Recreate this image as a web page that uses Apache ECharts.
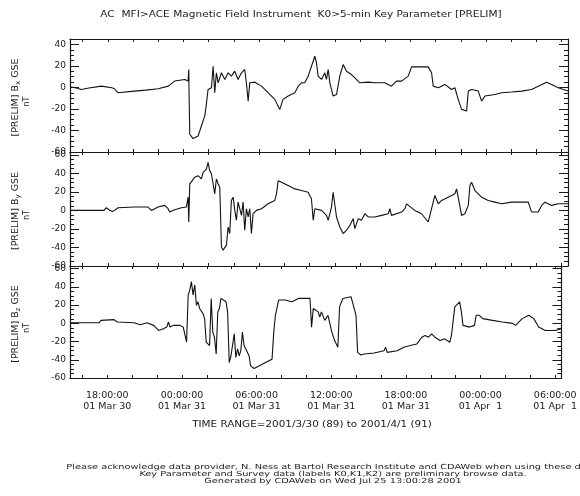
<!DOCTYPE html>
<html>
<head>
<meta charset="utf-8">
<script src="https://cdn.jsdelivr.net/npm/echarts@6/dist/echarts.min.js"></script>
<style>
html,body{margin:0;padding:0;background:#fff;}
#c{width:580px;height:496px;}
</style>
</head>
<body>
<div id="c"></div>
<script>
// ---- data (hours since 2001-03-30 00:00 UT, values in nT) ----
const bxHours = [15.0,15.5,15.9,16.5,17.5,18.3,18.5,18.8,20.1,21.0,22.0,22.8,23.3,24.1,24.37,24.42,24.45,24.5,24.76,25.16,25.42,25.69,25.82,25.95,26.22,26.35,26.48,26.61,26.75,27.01,27.28,27.54,27.8,28.07,28.33,28.6,28.86,28.99,29.13,29.26,29.66,30.19,30.71,31.24,31.64,31.9,32.3,32.83,33.1,33.36,33.62,33.89,34.15,34.42,34.55,34.68,34.95,35.21,35.34,35.48,35.61,35.87,36.14,36.4,36.67,36.93,37.33,37.59,37.99,38.65,39.18,39.97,40.5,40.9,41.3,41.83,42.09,43.41,43.68,43.81,44.21,44.74,45.26,45.53,45.79,46.06,46.46,46.59,46.85,47.38,47.65,47.91,48.7,49.23,50.03,50.82,51.61,52.14,52.8,53.2,53.73,54.5];
const bxValues = [0.5,-0.5,-1.9,-0.5,1.2,-0.3,-1.0,-4.9,-3.4,-2.5,-1.2,1.2,5.9,7.4,5.9,16.7,-10,-43.5,-47.5,-45.1,-35.8,-26.5,-15,-1.9,-0.3,19.7,-4.9,13.6,4.3,13.6,7.4,13.6,10.5,15.1,7.4,13.6,16.7,4.3,-12.7,4.3,4.9,1.2,-4.9,-11.1,-20.4,-11.1,-8.0,-4.9,1.2,4.3,4.3,10.5,19.7,29.0,22.8,10.5,7.4,13.6,7.4,16.7,4.3,-8.0,-6.5,10.5,21.3,15.1,12.0,8.9,4.3,4.9,4.3,4.3,1.2,5.9,5.9,10.5,19.1,19.1,13.6,1.2,-0.3,2.8,-1.9,-0.3,-11.1,-20.4,-21.9,-3.4,-1.9,-3.4,-12.7,-8.0,-6.5,-4.9,-4.3,-3.4,-1.9,1.2,4.9,2.8,-0.3,-3.4];

const byHours = [15.0,17.7,17.88,18.15,18.41,18.81,20.1,21.19,21.46,21.98,22.51,22.78,22.91,23.31,23.84,24.23,24.37,24.42,24.5,24.63,24.89,25.16,25.42,25.56,25.82,25.95,26.08,26.22,26.35,26.48,26.61,26.75,26.88,27.01,27.14,27.41,27.54,27.67,27.8,27.94,28.07,28.2,28.33,28.47,28.6,28.73,28.86,28.99,29.13,29.26,29.39,29.52,29.79,30.19,30.71,31.24,31.38,31.51,31.77,32.3,32.83,33.36,33.89,34.15,34.29,34.42,34.95,35.34,35.48,35.74,35.87,36.01,36.14,36.4,36.67,36.93,37.2,37.46,37.59,37.86,38.12,38.39,38.65,39.18,39.71,40.24,40.37,40.5,41.3,41.56,41.69,41.83,42.35,42.88,43.41,43.68,43.94,44.21,44.47,45.0,45.53,45.66,45.79,46.06,46.32,46.59,46.72,46.85,47.12,47.65,48.17,48.7,49.23,50.03,50.82,51.35,51.61,52.14,52.41,52.67,53.2,53.73,54.5];
const byValues = [0,0,2.9,0,-1.1,2.9,3.6,3.6,0,3.6,5.4,1.8,-1.8,0.7,2.9,3.6,14.3,-12.5,28.6,30.4,35.7,37.5,33.9,41.1,44.6,51.8,42.9,39.3,41.1,17.9,33.9,28.6,25,-39.3,-42.9,-37.5,-17.9,-25,10.7,14.3,0,-10.7,8.9,7.1,-5.4,8.9,-21.4,1.8,-7.1,1.8,-25,-3.6,0,1.8,7.1,10.7,17.9,32.1,30.4,26.8,23.2,21.4,19.6,12.5,-10.7,1.8,0,-5.4,-10.7,3.6,19.6,17.9,-7.1,-17.9,-25,-21.4,-16.1,-8.9,-19.6,-8.9,-10.7,-3.6,-7.1,-7.1,-5.4,-3.6,1.8,-5.4,-1.8,1.8,7.1,5.4,0,-3.6,-12.5,1.8,16.1,7.1,10.7,14.3,17.9,23.2,14.3,-5.4,-3.6,5.4,26.8,30.4,21.4,14.3,10.7,8.9,7.1,8.9,8.9,8.9,-1.8,-1.8,5.4,8.9,5.4,7.1,7.1];

const bzHours = [15.0,17.35,17.49,18.54,18.81,20.13,20.66,21.19,21.72,22.12,22.51,22.78,22.91,23.04,23.31,23.84,24.1,24.37,24.5,24.63,24.76,24.89,25.03,25.16,25.29,25.42,25.69,25.82,25.95,26.22,26.35,26.48,26.61,26.75,26.88,27.01,27.14,27.28,27.54,27.67,27.8,27.94,28.2,28.33,28.47,28.6,28.73,28.86,28.99,29.13,29.39,29.52,29.79,30.19,30.71,31.24,31.38,31.51,31.77,32.3,32.83,33.36,33.89,34.29,34.42,34.55,34.95,35.08,35.21,35.48,35.74,36.01,36.27,36.53,36.67,36.93,37.59,37.72,37.99,38.12,38.39,38.65,39.44,40.24,40.37,40.5,41.3,41.83,42.35,42.88,43.28,43.54,43.81,44.07,44.34,44.74,45.13,45.53,45.66,45.93,46.32,46.46,46.59,47.12,47.51,47.65,47.91,48.17,48.97,49.76,50.56,50.82,51.35,51.88,52.28,52.67,53.2,53.99,54.5];
const bzValues = [0.7,0.7,3.3,4.1,1.5,0.7,-1.5,0.7,-2.2,-7.8,-5.9,-4.1,1.5,-4.1,-2.2,-2.2,-4.1,-20.7,31.1,36.7,45.9,31.1,42.2,20,23.7,16.3,10.7,5.2,-20.7,-24.4,27.4,-9.6,-15.2,-33.7,12.6,16.3,27.4,27.4,23.7,12.6,-43,-35.6,-11.5,-37.4,-28.1,-35.6,-30,-9.6,-24.4,-28.1,-35.6,-46.7,-49.6,-46.7,-43,-39.3,-9.6,8.9,25.6,25.6,23.7,27.4,27.4,27.4,-4.1,16.3,12.6,7,12.6,3.3,8.9,-7.8,-18.9,-26.3,18.1,27.4,29.3,27.4,8.9,-31.9,-34.8,-33.7,-32.6,-30,-26.3,-31.9,-30,-26.3,-24.4,-22.6,-15.2,-13.3,-15.2,-11.5,-15.2,-18.9,-17,-20.7,-13.3,18.1,23.7,12.6,-2.2,-4.1,-2.2,8.9,8.9,5.2,3.3,1.5,0,-2.2,5.2,8.9,5.2,-4.1,-7.8,-7.8,-5.9];

const xTickHours = [16,18,20,22,24,26,28,30,32,34,36,38,40,42,44,46,48,50,52,54];
const xLabelHours = [18,24,30,36,42,48,54];
const xLabelTexts = ['18:00:00\n01 Mar 30','00:00:00\n01 Mar 31','06:00:00\n01 Mar 31','12:00:00\n01 Mar 31','18:00:00\n01 Mar 31','00:00:00\n01 Apr  1','06:00:00\n01 Apr  1'];
const panelNames = ['x','y','z'];
const panelMax = [45, 63, 63];

const titleText = 'AC  MFI>ACE Magnetic Field Instrument  K0>5-min Key Parameter [PRELIM]';
const rangeText = 'TIME RANGE=2001/3/30 (89) to 2001/4/1 (91)';
const footerLines = [
  'Please acknowledge data provider, N. Ness at Bartol Research Institute and CDAWeb when using these data.',
  'Key Parameter and Survey data (labels K0,K1,K2) are preliminary browse data.',
  'Generated by CDAWeb on Wed Jul 25 13:00:28 2001'
];

// ---- layout ----
const FONT = '"DejaVu Sans", sans-serif';
const INK = '#1a1a1a';
const grids = [
  {left:70, right:12, top:39, height:113},
  {left:70, right:12, top:152, height:114},
  {left:70, right:12, top:266, height:112}
];

const xAxes = [], yAxes = [];
grids.forEach((g, i) => {
  xAxes.push({
    gridIndex:i, type:'value', min:15, max:54.5, position:'bottom',
    axisLine:{show:true, onZero:false, lineStyle:{color:INK, width:1.2}},
    axisTick:{show:true, inside:true, length:3, customValues:xTickHours, lineStyle:{color:INK}},
    axisLabel:{show: i===2, customValues:xLabelHours, margin:12, fontFamily:FONT, fontSize:9.5, lineHeight:11, color:INK,
      formatter:(v)=>{const k=xLabelHours.indexOf(v); return k>=0?xLabelTexts[k]:'';}},
    splitLine:{show:false}
  });
});
grids.forEach((g, i) => {
  xAxes.push({
    gridIndex:i, type:'value', min:15, max:54.5, position:'top',
    axisLine:{show:true, onZero:false, lineStyle:{color:INK, width:1.2}},
    axisTick:{show:true, inside:true, length:3, customValues:xTickHours, lineStyle:{color:INK}},
    axisLabel:{show:false}, splitLine:{show:false}
  });
});
grids.forEach((g, i) => {
  yAxes.push({
    gridIndex:i, type:'value', min:-60, max:panelMax[i], interval:20, position:'left',
    axisLine:{show:true, onZero:false, lineStyle:{color:INK, width:1.2}},
    axisTick:{show:true, inside:true, length:9, lineStyle:{color:INK}},
    minorTick:{show:true, splitNumber:4, length:4, lineStyle:{color:INK}},
    axisLabel:{show:true, showMaxLabel:false, margin:4, fontFamily:FONT, fontSize:9, color:INK},
    splitLine:{show:false}
  });
});
grids.forEach((g, i) => {
  yAxes.push({
    gridIndex:i, type:'value', min:-60, max:panelMax[i], interval:20, position:'right',
    axisLine:{show:true, onZero:false, lineStyle:{color:INK, width:1.2}},
    axisTick:{show:true, inside:true, length:9, lineStyle:{color:INK}},
    minorTick:{show:true, splitNumber:4, length:4, lineStyle:{color:INK}},
    axisLabel:{show:false}, splitLine:{show:false}
  });
});

const zip = (a, b) => a.map((h, k) => [h, b[k]]);
const seriesData = [zip(bxHours, bxValues), zip(byHours, byValues), zip(bzHours, bzValues)];
const series = seriesData.map((d, i) => ({
  type:'line', xAxisIndex:i, yAxisIndex:i, data:d, showSymbol:false, symbol:'none',
  lineStyle:{color:'#111', width:1.1}, silent:true
}));

const graphics = [];
graphics.push({type:'text', x:301, y:15, scaleX:1.175, style:{text:titleText, font:'9px '+FONT, fill:INK, align:'center', verticalAlign:'middle'}});
grids.forEach((g, i) => {
  const cy = g.top + g.height/2;
  graphics.push({type:'text', x:16, y:cy+2, rotation:Math.PI/2,
    style:{text:'{a|[PRELIM] B}{s|'+panelNames[i]+'}{a| GSE}', align:'center', verticalAlign:'middle', fill:INK,
      rich:{a:{fontFamily:FONT, fontSize:9.5, fill:INK}, s:{fontFamily:FONT, fontSize:7, fill:INK, padding:[5,0,0,0]}}}});
  graphics.push({type:'text', x:27, y:cy+6, rotation:Math.PI/2,
    style:{text:'nT', font:'8px '+FONT, fill:INK, align:'center', verticalAlign:'middle'}});
});
graphics.push({type:'text', x:312, y:425, scaleX:1.3, style:{text:rangeText, font:'8px '+FONT, fill:INK, align:'center', verticalAlign:'middle'}});
footerLines.forEach((t, k) => {
  const y = 467 + k*7;
  graphics.push({type:'text', x:333, y:y, scaleX:1.4, style:{text:t, font:'7px '+FONT, fill:INK, align:'center', verticalAlign:'middle'}});
});

const chart = echarts.init(document.getElementById('c'), null, {renderer:'canvas'});
chart.setOption({
  backgroundColor:'#ffffff',
  animation:false,
  grid:grids,
  xAxis:xAxes,
  yAxis:yAxes,
  series:series,
  graphic:graphics
});
</script>
</body>
</html>
